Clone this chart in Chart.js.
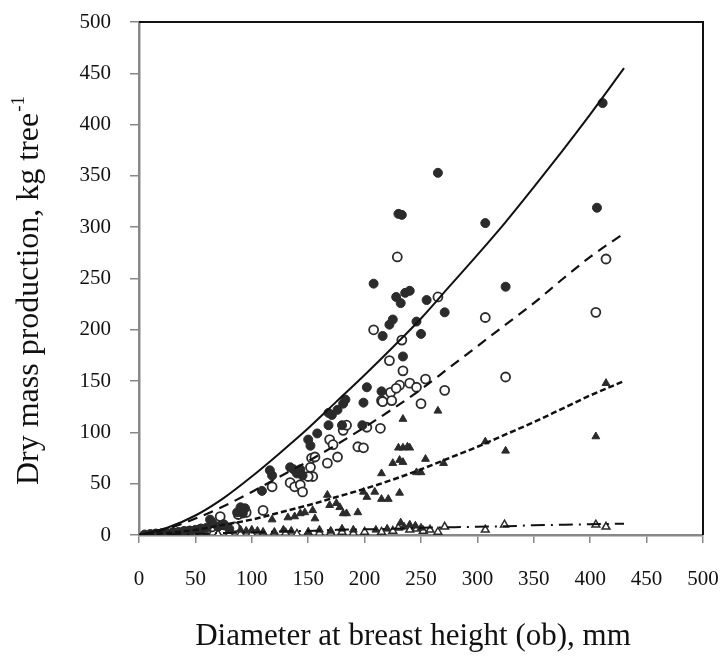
<!DOCTYPE html>
<html>
<head>
<meta charset="utf-8">
<script src="https://cdn.jsdelivr.net/npm/chart.js@4/dist/chart.umd.min.js"></script>
<style>
  html, body { margin: 0; padding: 0; background: #fff; }
  #wrap { width: 725px; height: 659px; }
</style>
</head>
<body>
<div id="wrap"><canvas id="chart" width="725" height="659"></canvas></div>
<script>
// Scatter data: [dbh mm, dry mass kg]
const filledCircles = [
    [411,421],[406,319],[307,304],[325,242],[265,353],[230,313],[233,312],[208,245],
    [228,232],[232,226],[236,236],[240,238],[255,229],[271,217],[225,210],[222,205],
    [246,208],[250,196],[216,194],[234,174],[202,144],[199,129],[183,132],[181,128],
    [176,122],[168,119],[171,117],[168,107],[158,99],[150,93],[152,87],[134,66],
    [137,64],[143,64],[140,60],[145,58],[180,107],[198,107],[215,140],[116,63],
    [118,58],[109,43],[90,27],[94,26],[87,22],[92,21],[63,15],[65,12],
    [5,0.5],[10,1],[15,1],[20,1.5],[25,2],[30,2.5],[35,3],[40,4],[45,4],[50,5],
    [55,6],[60,7],[70,8],[75,10],[80,6]
];
const openCircles = [
    [414,269],[405,217],[325,154],[307,212],[265,232],[229,271],[208,200],[233,190],
    [234,160],[231,146],[240,148],[246,144],[254,152],[271,141],[250,128],[222,170],
    [223,139],[228,143],[215,131],[224,131],[216,130],[181,102],[184,107],[202,105],
    [214,104],[169,93],[172,88],[194,86],[199,85],[176,76],[167,70],[153,75],
    [156,76],[152,66],[154,57],[150,57],[134,51],[138,47],[143,49],[145,42],
    [118,47],[110,24],[72,18],[92,25],[88,20],[95,22],[85,8],[60,5],[40,3],[20,1],
    [15,1],[30,2],[45,4],[55,6],[65,8],[75,10]
];
const filledTriangles = [
    [414,148],[405,96],[325,82],[307,91],[265,121],[234,113],[234,85],[240,85],
    [230,85],[238,86],[234,71],[225,70],[231,73],[254,74],[270,70],[246,61],
    [250,61],[231,41],[215,60],[199,42],[202,37],[209,42],[215,35],[221,35],
    [167,39],[169,29],[175,31],[178,27],[181,21],[184,21],[194,22],[143,21],
    [147,22],[154,24],[156,16],[132,17],[138,18],[118,15],[72,12],[100,5],
    [95,4],[90,5],[120,3],[105,4],[110,3],[128,5],[135,4],[150,3],[160,5],
    [170,4],[180,6],[190,5],[210,5],[220,6],[235,8],[240,10],[245,9],[250,7],[232,12]
];
const openTriangles = [
    [324,10],[405,10],[414,8],[265,3],[271,8],[307,5],[246,6],[240,5],[252,4],
    [258,5],[230,7],[225,4],[215,3],[200,3],[190,2],[180,3],[170,2],[160,2],
    [150,2],[140,1],[130,2],[120,1],[110,1],[100,1],[90,1],[80,1],[70,1],
    [60,0.5],[50,0.5],[40,0.5],[30,0.3],[20,0.2],[10,0.1]
];

// Fitted curves, read at intervals along each line
const curveX = [0,25,50,75,100,125,150,175,200,225,250,275,300,325,350,375,400,430];
const solidY = [0,7,19,36,57,80,104,130,156,183,211,242,273,305,339,374,410,455];
const longDashY = [0,6,16,28,42,57,72,88,105,123,142,163,184,205,226,249,271,294];
const shortDashY = [0,2,5,10,15,22,29,37,45,54,64,75,86,98,110,123,136,150];
const dashDotY = [0,0.5,1,2,2.5,3.5,4,5,5.5,6,7,7.5,8,8.5,9.5,10,10.5,11];

const xTicks = [0,50,100,150,200,250,300,350,400,450,500];
const yTicks = [0,50,100,150,200,250,300,350,400,450,500];

const pts = arr => arr.map(p => ({ x: p[0], y: p[1] }));
const curve = ys => curveX.map((x, i) => ({ x: x, y: ys[i] }));

const INK = '#2b2b2b';
const SERIF = '"Liberation Serif", serif';

// keep the plot box where the figure has it
function noOverflow(s) {
    s.paddingTop = 0; s.paddingBottom = 0; s.paddingLeft = 0; s.paddingRight = 0;
}

// frame + titles
const decorPlugin = {
    id: 'decor',
    afterDraw(chart) {
        const { ctx, chartArea: a } = chart;
        ctx.save();
        ctx.strokeStyle = '#111';
        ctx.lineWidth = 2;
        ctx.beginPath();
        ctx.moveTo(a.left, a.top);
        ctx.lineTo(a.right, a.top);
        ctx.lineTo(a.right, a.bottom);
        ctx.stroke();

        ctx.fillStyle = '#111';
        ctx.textBaseline = 'middle';
        ctx.font = '31px ' + SERIF;
        ctx.textAlign = 'center';
        ctx.fillText('Diameter at breast height (ob), mm', 413, 637);

        // y title with superscript
        const main = 'Dry mass production, kg tree';
        const sup = '-1';
        ctx.translate(30, 291);
        ctx.rotate(-Math.PI / 2);
        ctx.font = '32px ' + SERIF;
        const w1 = ctx.measureText(main).width;
        ctx.font = '19px ' + SERIF;
        const w2 = ctx.measureText(sup).width;
        const start = -(w1 + w2) / 2;
        ctx.textAlign = 'left';
        ctx.font = '32px ' + SERIF;
        ctx.fillText(main, start, 0);
        ctx.font = '19px ' + SERIF;
        ctx.fillText(sup, start + w1 + 1, -11);
        ctx.restore();
    }
};

new Chart(document.getElementById('chart'), {
    type: 'scatter',
    data: {
        datasets: [
            { label: 'solid fit', type: 'line', data: curve(solidY), borderColor: '#111', borderWidth: 2,
              pointRadius: 0, cubicInterpolationMode: 'monotone', fill: false },
            { label: 'long dash fit', type: 'line', data: curve(longDashY), borderColor: '#111', borderWidth: 2.2,
              borderDash: [10, 7], pointRadius: 0, cubicInterpolationMode: 'monotone', fill: false },
            { label: 'short dash fit', type: 'line', data: curve(shortDashY), borderColor: '#111', borderWidth: 2.5,
              borderDash: [6, 3], pointRadius: 0, cubicInterpolationMode: 'monotone', fill: false },
            { label: 'dash dot fit', type: 'line', data: curve(dashDotY), borderColor: '#111', borderWidth: 2,
              borderDash: [14, 6, 2, 6], pointRadius: 0, cubicInterpolationMode: 'monotone', fill: false },
            { label: 'filled circles', data: pts(filledCircles), pointStyle: 'circle', pointRadius: 4.5,
              backgroundColor: INK, borderColor: INK, borderWidth: 1 },
            { label: 'open circles', data: pts(openCircles), pointStyle: 'circle', pointRadius: 4.5,
              backgroundColor: '#fff', borderColor: INK, borderWidth: 1.8 },
            { label: 'filled triangles', data: pts(filledTriangles), pointStyle: 'triangle', pointRadius: 4.5,
              backgroundColor: INK, borderColor: INK, borderWidth: 1 },
            { label: 'open triangles', data: pts(openTriangles), pointStyle: 'triangle', pointRadius: 4.5,
              backgroundColor: '#fff', borderColor: INK, borderWidth: 1.5 }
        ]
    },
    options: {
        responsive: false,
        animation: false,
        layout: { padding: { top: 22, right: 22, left: 0, bottom: 0 } },
        plugins: { legend: { display: false }, tooltip: { enabled: false } },
        scales: {
            x: {
                type: 'linear', min: 0, max: 500,
                afterBuildTicks: s => { s.ticks = xTicks.map(v => ({ value: v })); },
                afterFit: s => { s.height = 124; noOverflow(s); },
                border: { color: '#888', width: 2.5 },
                grid: { drawOnChartArea: false, tickLength: 8, color: '#888', lineWidth: 1.5 },
                ticks: { color: '#111', padding: 24, maxRotation: 0,
                         font: { family: SERIF, size: 21 } }
            },
            y: {
                type: 'linear', min: 0, max: 500,
                afterBuildTicks: s => { s.ticks = yTicks.map(v => ({ value: v })); },
                afterFit: s => { s.width = 139; noOverflow(s); },
                border: { color: '#888', width: 2.5 },
                grid: { drawOnChartArea: false, tickLength: 9, color: '#888', lineWidth: 1.5 },
                ticks: { color: '#111', padding: 19,
                         font: { family: SERIF, size: 21 } }
            }
        }
    },
    plugins: [decorPlugin]
});
</script>
</body>
</html>
